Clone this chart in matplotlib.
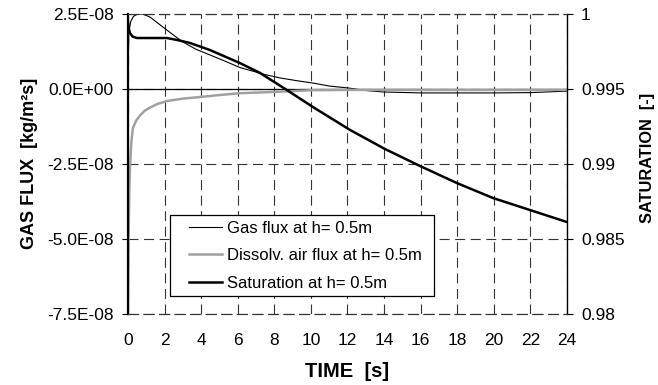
import matplotlib
matplotlib.use("Agg")
import matplotlib.pyplot as plt
import numpy as np
from matplotlib.patches import Rectangle

plt.rcParams['font.family'] = ['Liberation Sans', 'DejaVu Sans']

# gas flux at h = 0.5 m  [1e-8 kg/m2s]
time_gas = [0.0, 0.05, 0.15, 0.3, 0.5, 0.8, 1.2, 1.9, 2.7, 3.0, 3.7, 4.5, 5.3, 6.1,
            6.8, 7.5, 8.3, 9.2, 10.1, 11.0, 12.1, 13.0, 14.0, 16.0, 18.0, 20.0, 22.0, 24.0]
gas_flux = [0.6, 1.9, 2.25, 2.42, 2.49, 2.5, 2.4, 2.07, 1.7, 1.57, 1.33, 1.13, 0.93, 0.72,
            0.6, 0.48, 0.37, 0.28, 0.2, 0.1, 0.03, -0.05, -0.1, -0.13, -0.13, -0.13, -0.12, -0.07]

# dissolved air flux at h = 0.5 m  [1e-8 kg/m2s]
time_air = [0.0, 0.03, 0.07, 0.11, 0.18, 0.27, 0.45, 0.66, 0.9, 1.2, 1.6, 2.13, 3.0, 3.9,
            5.0, 6.1, 8.3, 10.0, 12.0, 16.0, 20.0, 24.0]
air_flux = [-7.6, -5.0, -3.4, -2.6, -1.8, -1.3, -1.05, -0.88, -0.73, -0.62, -0.5, -0.4, -0.32,
            -0.27, -0.2, -0.14, -0.09, -0.04, -0.03, -0.03, -0.03, -0.03]

# saturation at h = 0.5 m  [-]
time_sat = [0.0, 0.05, 0.11, 0.25, 0.49, 1.0, 2.13, 2.68, 3.39, 4.48, 6.12, 7.22, 8.69,
            10.11, 12.14, 14.05, 15.96, 17.98, 19.96, 21.98, 24.0]
saturation = [0.9995, 0.999, 0.99873, 0.9985, 0.9984, 0.9984, 0.9984, 0.99827, 0.99807, 0.9976,
              0.99673, 0.99607, 0.99493, 0.9938, 0.99227, 0.991, 0.98987, 0.98873, 0.98773,
              0.98693, 0.98613]

time_ticks = list(range(0, 25, 2))
flux_ticks = [-7.5e-8, -5e-8, -2.5e-8, 0.0, 2.5e-8]
flux_labels = ['-7.5E-08', '-5.0E-08', '-2.5E-08', '0.0E+00', '2.5E-08']
sat_ticks = [0.98, 0.985, 0.99, 0.995, 1.0]
sat_labels = ['0.98', '0.985', '0.99', '0.995', '1']

dash = (0, (9, 5))
grid_style = dict(color='#333333', linewidth=0.8, linestyle=dash)

fig = plt.figure(figsize=(6.58, 3.85), dpi=100)
ax = fig.add_axes([0.1945, 0.1844, 0.6672, 0.7792])
ax2 = ax.twinx()

ax.plot(time_gas, np.array(gas_flux) * 1e-8, color='black', lw=0.8,
        label='Gas flux at h= 0.5m')
ax.plot(time_air, np.array(air_flux) * 1e-8, color='#a0a0a0', lw=1.8,
        label='Dissolv. air flux at h= 0.5m')
ax2.plot(time_sat, saturation, color='black', lw=1.8,
         label='Saturation at h= 0.5m')

ax.set_xlim(0, 24)
ax.set_ylim(-7.5e-8, 2.5e-8)
ax2.set_ylim(0.98, 1.0)

ax.set_xticks(time_ticks)
ax.set_yticks(flux_ticks)
ax.set_yticklabels(flux_labels)
ax2.set_yticks(sat_ticks)
ax2.set_yticklabels(sat_labels)

ax.grid(True, **grid_style)
ax.axhline(0, color='black', lw=0.9, zorder=1.8)

for a in (ax, ax2):
    for side in ('top', 'bottom'):
        a.spines[side].set_linestyle(dash)
        a.spines[side].set_linewidth(0.8)
        a.spines[side].set_color('#333333')
ax.spines['right'].set_visible(False)
ax2.spines['left'].set_visible(False)
ax.spines['left'].set_linewidth(1.6)
ax2.spines['right'].set_linewidth(1.0)

ax.tick_params(axis='x', length=0, pad=14, labelsize=12.5)
ax.tick_params(axis='y', direction='out', length=4.5, width=0.8, pad=6, labelsize=12.5)
ax2.tick_params(axis='y', direction='out', length=4, width=0.8, pad=6, labelsize=12.5)

ax.set_xlabel('TIME  [s]', fontsize=14.5, fontweight='bold')
ax.set_ylabel('GAS FLUX  [kg/m²s]', fontsize=13, fontweight='bold')
ax2.set_ylabel('SATURATION  [-]', fontsize=11.8, fontweight='bold')
ax.xaxis.set_label_coords(0.5, -0.16)
ax.yaxis.set_label_coords(-0.205, 0.503)
ax2.yaxis.set_label_coords(1.166, 0.52)

# legend box drawn separately so the inner padding can be wider than tall
box = Rectangle((0.0957, 0.06), 0.601, 0.27, transform=ax2.transAxes,
                facecolor='white', edgecolor='black', linewidth=0.9, zorder=4)
ax2.add_patch(box)

handles = ax.get_legend_handles_labels()[0] + ax2.get_legend_handles_labels()[0]
leg = ax2.legend(handles=handles, loc='center left', bbox_to_anchor=(0.139, 0.195),
                 borderaxespad=0, borderpad=0, fontsize=12, handlelength=1.95,
                 handletextpad=0.3, labelspacing=0.75, frameon=False)
leg.set_zorder(5)

fig.savefig('out.png', dpi=100)
